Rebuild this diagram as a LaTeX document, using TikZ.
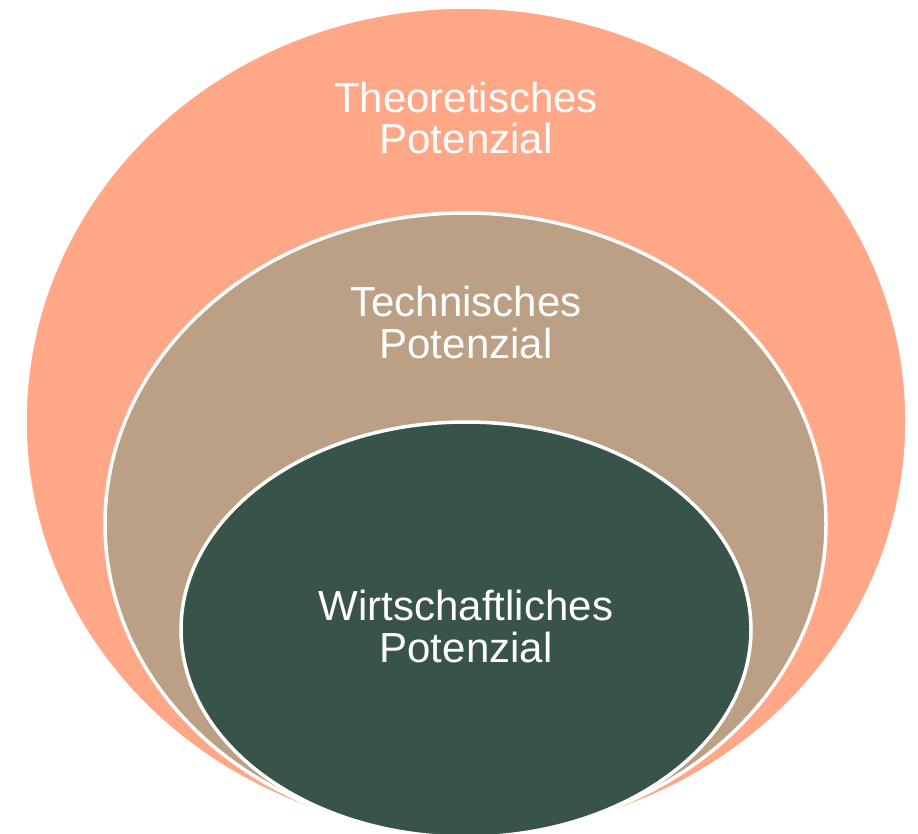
\documentclass[tikz,border=0pt]{standalone}
\usepackage{fontspec}
\setmainfont{Liberation Sans}
\definecolor{orangeC}{RGB}{255,167,134}
\definecolor{tanC}{RGB}{188,160,133}
\definecolor{greenC}{RGB}{56,83,73}
\begin{document}
\begin{tikzpicture}[x=1pt,y=-1pt,
  ring/.style={draw=white,line width=3.5pt},
  lbl/.style={text=white,align=center,anchor=base,inner sep=0pt,
    font=\fontsize{42}{41.5}\selectfont}]
\useasboundingbox (0,0) rectangle (918,833);
\clip (0,0) rectangle (918,833);
\fill[white] (0,0) rectangle (918,833);
\filldraw[ring,fill=orangeC] (466,421) ellipse [x radius=441pt,y radius=414pt];
\filldraw[ring,fill=tanC] (465.5,524) ellipse [x radius=360.5pt,y radius=311pt];
\filldraw[ring,fill=greenC] (466,629.5) ellipse [x radius=285pt,y radius=207.5pt];
\node[lbl] (theo) at (466,153.5) {Theoretisches\\Potenzial};
\node[lbl] (tech) at (466,358) {Technisches\\Potenzial};
\node[lbl] (wirt) at (466,662) {Wirtschaftliches\\Potenzial};
\end{tikzpicture}
\end{document}
